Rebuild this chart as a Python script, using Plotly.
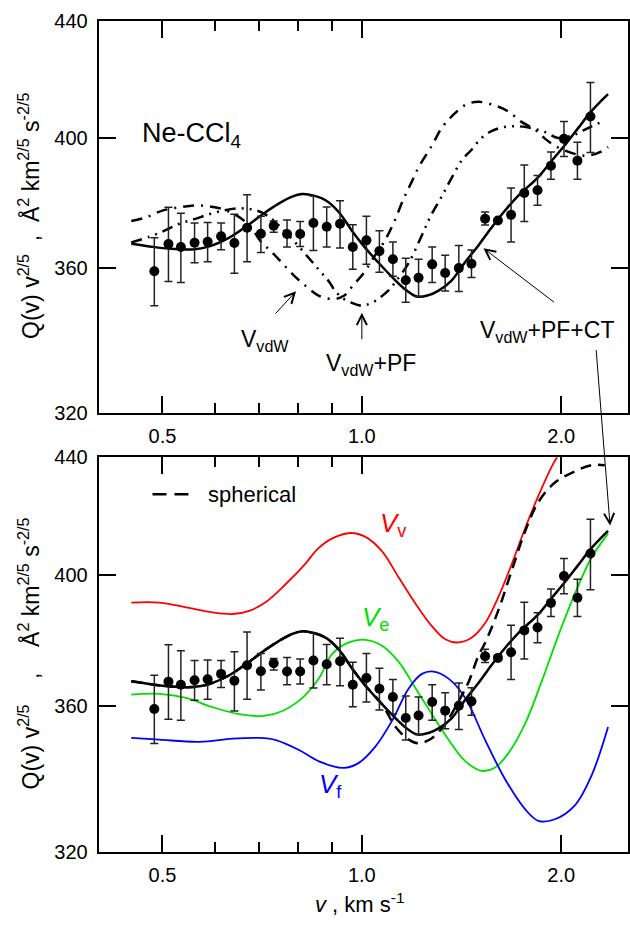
import numpy as np
import plotly.graph_objects as go

# ---------------- measured data (Ne-CCl4) ----------------
v_data = [0.486, 0.5105, 0.533, 0.559, 0.585, 0.613, 0.642, 0.671, 0.704, 0.736,
          0.771, 0.807, 0.845, 0.885, 0.927, 0.969, 1.016, 1.063, 1.114, 1.165,
          1.218, 1.277, 1.336, 1.401, 1.464, 1.535, 1.605, 1.680, 1.759, 1.842,
          1.930, 2.019, 2.116, 2.214]
q_data = [359.1, 367.1, 366.2, 367.5, 367.8, 369.4, 367.4, 372.0, 370.2, 372.6,
          370.1, 370.1, 373.4, 372.3, 373.2, 366.2, 368.2, 365.0, 362.6, 356.5,
          357.2, 361.1, 358.6, 360.0, 361.3, 374.7, 374.2, 375.9, 382.6, 383.5,
          391.2, 399.8, 392.8, 407.1]
q_hi = [369.0, 378.2, 376.4, 373.4, 373.6, 373.4, 376.1, 382.1, 375.5, 374.0,
        374.3, 373.9, 381.7, 378.3, 380.2, 372.9, 375.5, 371.1, 367.7, 362.9,
        362.6, 366.2, 363.8, 366.7, 365.3, 376.8, 374.2, 384.2, 391.4, 388.1,
        395.6, 405.5, 398.7, 418.5]
q_lo = [349.2, 356.1, 355.8, 361.6, 361.9, 365.4, 358.5, 361.9, 364.6, 370.6,
        366.2, 366.4, 365.2, 366.2, 365.9, 359.7, 361.1, 358.8, 357.6, 350.2,
        351.8, 355.8, 353.4, 353.2, 357.3, 372.8, 374.2, 367.7, 373.9, 378.8,
        386.9, 394.1, 386.9, 395.4]

# ---------------- model curves ----------------
v_ct = [0.4486, 0.478, 0.5123, 0.5548, 0.5884, 0.6307, 0.6713, 0.712, 0.750, 0.7846,
        0.8123, 0.8467, 0.8827, 0.9233, 0.966, 1.0104, 1.0607, 1.1096, 1.1567, 1.2100,
        1.2613, 1.3058, 1.3660, 1.4326, 1.500, 1.5692, 1.6417, 1.7230, 1.8466, 1.9319,
        2.0279, 2.1212, 2.2114, 2.2974, 2.3538]
q_ct = [367.2, 366.4, 365.7, 365.5, 366.4, 369.0, 372.6, 376.4, 379.4, 381.5,
        382.3, 381.8, 380.3, 376.7, 371.1, 366.1, 361.5, 357.5, 354.2, 351.8,
        352.2, 353.5, 356.4, 361.8, 366.7, 372.0, 377.0, 381.8, 387.6, 392.6,
        397.9, 403.3, 408.4, 412.3, 414.6]

v_vdw = [0.4486, 0.473, 0.500, 0.5303, 0.5586, 0.5884, 0.6198, 0.6529, 0.6807, 0.7022,
         0.7320, 0.7579, 0.7900, 0.8207, 0.8615, 0.9075, 0.9395, 0.9727, 1.0070, 1.0425,
         1.0793, 1.1173, 1.1567, 1.1892, 1.2184, 1.2746, 1.3195, 1.3660, 1.4340, 1.500,
         1.5910, 1.6645, 1.7350, 1.8275, 1.8921, 1.9588, 2.0279, 2.1212, 2.1962, 2.2974,
         2.3538]
q_vdw = [374.0, 375.2, 377.2, 378.2, 378.8, 378.5, 377.5, 375.2, 372.0, 368.1,
         364.6, 361.5, 357.8, 355.0, 352.0, 351.1, 352.0, 355.3, 358.6, 363.2,
         367.6, 373.5, 380.9, 386.1, 390.7, 397.5, 403.3, 407.1, 411.0, 412.0,
         410.7, 408.8, 405.6, 402.7, 399.8, 397.5, 396.0, 394.7, 394.4, 395.7,
         397.2]

v_pf = [0.4486, 0.478, 0.5035, 0.5303, 0.5586, 0.5884, 0.6198, 0.6529, 0.6807, 0.7047,
        0.7320, 0.7552, 0.7955, 0.8322, 0.8615, 0.8919, 0.9138, 0.9395, 0.966, 0.9896,
        1.0139, 1.0425, 1.0718, 1.0981, 1.1251, 1.1769, 1.2312, 1.2702, 1.3195, 1.3613,
        1.4142, 1.4641, 1.5157, 1.5692, 1.6360, 1.7230, 1.8025, 1.8921, 1.9793, 2.0849,
        2.1962, 2.3295]
q_pf = [367.6, 369.3, 371.1, 373.2, 374.6, 376.1, 377.3, 377.9, 377.6, 376.7,
        374.6, 372.0, 367.3, 362.9, 359.5, 356.1, 353.1, 351.1, 350.0, 349.3,
        349.4, 350.3, 351.9, 353.6, 356.1, 361.5, 369.6, 375.5, 381.5, 386.7,
        392.8, 396.3, 400.1, 402.3, 403.6, 403.9, 403.3, 402.0, 400.1, 401.0,
        403.3, 405.9]

v_sph = [0.4486, 0.478, 0.5123, 0.5548, 0.5884, 0.6307, 0.6713, 0.712, 0.750, 0.7846,
         0.8123, 0.8467, 0.8827, 0.9233, 0.966, 1.0104, 1.0729, 1.1239, 1.1769, 1.2184,
         1.2758, 1.3365, 1.3997, 1.4488, 1.5000, 1.5353, 1.6077, 1.6836, 1.7636, 1.8466,
         1.9568, 2.0973, 2.2214, 2.3270]
q_sph = [367.2, 366.4, 365.7, 365.5, 366.4, 369.0, 372.6, 376.4, 379.4, 381.5,
         382.3, 381.8, 380.3, 376.7, 371.1, 366.1, 360.4, 354.0, 350.3, 349.3,
         350.7, 354.8, 361.3, 366.9, 374.9, 378.8, 388.9, 401.5, 414.4, 424.3,
         431.1, 435.0, 437.2, 437.2]

v_vv = [0.4486, 0.4948, 0.5428, 0.5952, 0.6379, 0.6760, 0.7163, 0.7677, 0.8227, 0.8556,
        0.9022, 0.9616, 1.0129, 1.0729, 1.1368, 1.2046, 1.2758, 1.3365, 1.3997, 1.4657,
        1.5353, 1.6077, 1.6836, 1.7636, 1.8466, 1.9339, 1.9793]
q_vv = [391.3, 391.3, 389.8, 388.2, 387.7, 388.7, 391.5, 397.2, 403.9, 408.4,
        412.1, 413.9, 412.6, 407.8, 399.3, 391.0, 383.9, 379.9, 378.9, 380.4,
        384.9, 393.1, 403.6, 415.4, 426.4, 436.6, 440.7]

v_ve = [0.4486, 0.4948, 0.5428, 0.5952, 0.6529, 0.7120, 0.7587, 0.8131, 0.8615, 0.9022,
        0.9560, 1.0129, 1.0729, 1.1368, 1.2046, 1.2758, 1.3519, 1.4326, 1.5174, 1.5894,
        1.6645, 1.7636, 1.8681, 1.9793, 2.0973, 2.2214, 2.3538]
q_ve = [363.3, 363.5, 362.3, 359.6, 357.6, 357.1, 358.5, 362.3, 368.1, 375.4,
        378.9, 379.7, 377.9, 373.0, 365.2, 357.6, 350.3, 344.3, 341.6, 342.5,
        346.5, 354.8, 367.1, 380.9, 394.1, 405.7, 413.7]

v_vf = [0.4486, 0.4948, 0.5684, 0.6379, 0.6998, 0.7415, 0.8038, 0.8615, 0.9395, 0.9896,
        1.0487, 1.1107, 1.1769, 1.2324, 1.2834, 1.3519, 1.4326, 1.5353, 1.6455, 1.7636,
        1.8466, 1.9568, 2.0973, 2.2214, 2.3538]
q_vf = [350.8, 350.3, 349.7, 350.6, 350.8, 350.2, 347.4, 344.2, 342.4, 343.8,
        348.4, 355.7, 365.1, 369.4, 370.1, 368.0, 362.3, 350.2, 339.3, 331.2,
        328.1, 328.5, 332.2, 340.2, 353.9]

x_tickvals = [0.5, 1.0, 2.0]
x_ticktext = ["0.5", "1.0", "2.0"]
x_minor = [0.6, 0.7, 0.8, 0.9]
y_tickvals = [320, 360, 400, 440]

# ---------------- figure ----------------
W, H = 630, 935
FONT = "Liberation Sans, Arial, sans-serif"
q_arr = np.array(q_data)
err_plus = np.array(q_hi) - q_arr
err_minus = q_arr - np.array(q_lo)

fig = go.Figure()

def add_panel(xa, ya):
    fig.add_trace(go.Scatter(x=v_data, y=q_data, mode="markers", xaxis=xa, yaxis=ya,
                             marker=dict(color="black", size=10),
                             error_y=dict(type="data", symmetric=False, array=err_plus,
                                          arrayminus=err_minus, thickness=1.5, width=4,
                                          color="#222222"),
                             showlegend=False))

# top panel
fig.add_trace(go.Scatter(x=v_vdw, y=q_vdw, mode="lines", xaxis="x", yaxis="y",
                         line=dict(color="black", width=2.5, dash="11px,7px,2px,7px", shape="spline"),
                         showlegend=False))
fig.add_trace(go.Scatter(x=v_pf, y=q_pf, mode="lines", xaxis="x", yaxis="y",
                         line=dict(color="black", width=2.5, dash="11px,6px,2px,6px,2px,6px", shape="spline"),
                         showlegend=False))
fig.add_trace(go.Scatter(x=v_ct, y=q_ct, mode="lines", xaxis="x", yaxis="y",
                         line=dict(color="black", width=2.5, shape="spline"), showlegend=False))
add_panel("x", "y")

# bottom panel
fig.add_trace(go.Scatter(x=v_vv, y=q_vv, mode="lines", xaxis="x2", yaxis="y2",
                         line=dict(color="#ff0000", width=1.8, shape="spline"), showlegend=False))
fig.add_trace(go.Scatter(x=v_ve, y=q_ve, mode="lines", xaxis="x2", yaxis="y2",
                         line=dict(color="#00e000", width=1.8, shape="spline"), showlegend=False))
fig.add_trace(go.Scatter(x=v_vf, y=q_vf, mode="lines", xaxis="x2", yaxis="y2",
                         line=dict(color="#0000ff", width=1.8, shape="spline"), showlegend=False))
fig.add_trace(go.Scatter(x=v_sph, y=q_sph, mode="lines", xaxis="x2", yaxis="y2",
                         line=dict(color="black", width=2.5, dash="11px,7px", shape="spline"),
                         showlegend=False))
fig.add_trace(go.Scatter(x=v_ct, y=q_ct, mode="lines", xaxis="x2", yaxis="y2",
                         line=dict(color="black", width=2.5, shape="spline"), showlegend=False))
add_panel("x2", "y2")

xrange = [np.log10(0.5 * 2 ** (-64 / 200)), np.log10(0.5 * 2 ** (467 / 200))]
yrange = [np.log10(320), np.log10(440)]

def px(x):
    return x / W

def py(y):
    return 1 - y / H

xa_common = dict(type="log", range=xrange, domain=[px(99), 1.0],
                 tickvals=x_tickvals, ticktext=x_ticktext, ticks="inside", ticklen=17,
                 tickwidth=1.5, tickcolor="black", showline=True, linewidth=2, linecolor="black",
                 mirror="ticks", showgrid=False, zeroline=False,
                 tickfont=dict(family=FONT, size=20, color="black"),
                 minor=dict(tickvals=x_minor, ticks="inside", ticklen=10, tickwidth=1.5,
                            tickcolor="black", showgrid=False),
                 ticklabelstandoff=4)
ya_common = dict(type="log", range=yrange, tickvals=y_tickvals,
                 ticks="inside", ticklen=17, tickwidth=1.5, tickcolor="black",
                 showline=True, linewidth=2, linecolor="black", mirror="ticks",
                 showgrid=False, zeroline=False,
                 tickfont=dict(family=FONT, size=20, color="black"), ticklabelstandoff=5)

fig.update_layout(
    width=W, height=H, margin=dict(l=0, r=0, t=0, b=0),
    paper_bgcolor="white", plot_bgcolor="white", showlegend=False,
    xaxis=dict(**xa_common, anchor="y"),
    yaxis=dict(**ya_common, domain=[py(412), py(10)], anchor="x"),
    xaxis2=dict(**xa_common, anchor="y2"),
    yaxis2=dict(**ya_common, domain=[py(861), py(457)], anchor="x2"),
)

ann = []

def text(x, y, s, size, color="black", xanchor="left", angle=0):
    ann.append(dict(x=px(x), y=py(y), xref="paper", yref="paper", text=s, showarrow=False,
                    xanchor=xanchor, yanchor="middle", textangle=angle,
                    font=dict(family=FONT, size=size, color=color)))

def arrow(tx, ty, sx, sy):
    ann.append(dict(x=px(tx), y=py(ty), xref="paper", yref="paper", text="",
                    showarrow=True, ax=sx - tx, ay=sy - ty, axref="pixel", ayref="pixel",
                    arrowhead=5, arrowsize=2, arrowwidth=1, arrowcolor="black", standoff=0))

ytitle_top = ("Q(v) v<sup>2/5</sup>&nbsp;&nbsp;, &nbsp;Å<sup>2</sup> km<sup>2/5</sup> s<sup>-2/5</sup>")
ytitle_bot = ("Q(v) v<sup>2/5</sup>&nbsp;&nbsp;&nbsp;&nbsp;, &nbsp;&nbsp;&nbsp;Å<sup>2</sup> km<sup>2/5</sup> s<sup>-2/5</sup>")
text(29, 210, ytitle_top, 23, xanchor="center", angle=-90)
text(29, 658, ytitle_bot, 23, xanchor="center", angle=-90)
text(361, 914, "<i>v</i> , km s<sup>-1</sup>", 22, xanchor="center")

text(140, 127, "Ne-CCl<sub>4</sub>", 27)
text(240, 337, "V<sub>vdW</sub>", 23)
text(325, 362, "V<sub>vdW</sub>+PF", 23)
text(480, 328, "V<sub>vdW</sub>+PF+CT", 23)

arrow(297, 287, 275, 311)
arrow(363, 309, 363, 337)
arrow(485, 243, 557, 298)
arrow(612, 527, 598, 350)

text(379, 526, "<i>V</i><sub>v</sub>", 26, color="#ff0000")
text(361, 622, "<i>V</i><sub>e</sub>", 26, color="#00e000")
text(318, 793, "<i>V</i><sub>f</sub>", 26, color="#0000ff")

text(207, 495, "spherical", 22)
fig.update_layout(annotations=ann)
fig.add_shape(type="line", xref="paper", yref="paper", x0=px(153), x1=px(189), y0=py(495), y1=py(495),
              line=dict(color="black", width=2.5, dash="14px,8px"))

fig.write_html("out.html")
